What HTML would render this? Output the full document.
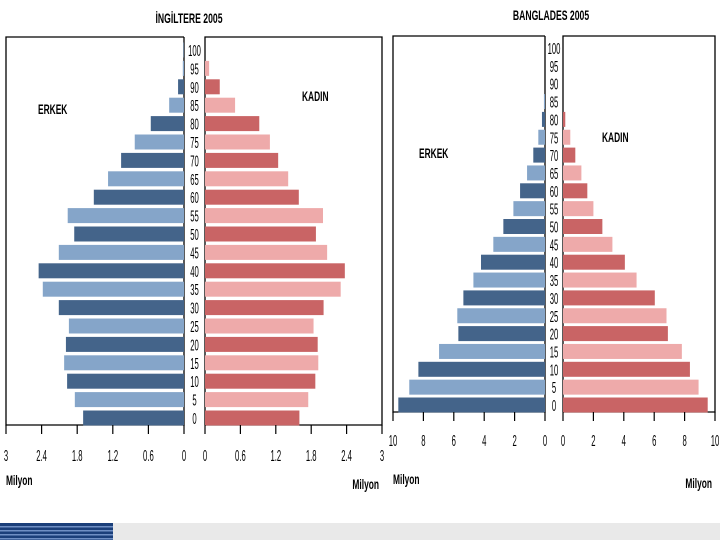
<!DOCTYPE html>
<html><head><meta charset="utf-8"><style>
body{margin:0;background:#fff;width:720px;height:540px;overflow:hidden}
svg{display:block;font-family:"Liberation Sans",sans-serif}
</style></head><body>
<svg id="c" width="720" height="540">
<rect x="0" y="523" width="720" height="17" fill="#e9e9e9"/>
<g>
<rect x="0" y="523" width="113" height="17" fill="#1b3f7a"/>
<rect x="0" y="526" width="113" height="1.5" fill="#6f8fc4"/>
<rect x="0" y="530" width="113" height="1.5" fill="#6f8fc4"/>
<rect x="0" y="534" width="113" height="1.5" fill="#6f8fc4"/>
<rect x="0" y="538" width="113" height="1.5" fill="#6f8fc4"/>
</g>
</svg>
<script>
const ages=[0,5,10,15,20,25,30,35,40,45,50,55,60,65,70,75,80,85,90,95,100];
const ukMale=[1.70,1.84,1.97,2.02,1.99,1.94,2.11,2.38,2.45,2.11,1.85,1.96,1.52,1.28,1.06,0.83,0.56,0.25,0.10,0.02,0.01];
const ukFemale=[1.60,1.75,1.87,1.92,1.91,1.84,2.01,2.30,2.37,2.07,1.88,2.00,1.59,1.41,1.24,1.10,0.92,0.51,0.25,0.07,0];
const ukTicks=["0","0.6","1.2","1.8","2.4","3"];
const bdMale=[9.65,8.93,8.33,6.97,5.70,5.77,5.37,4.71,4.21,3.40,2.74,2.08,1.64,1.18,0.77,0.44,0.20,0.07,0,0,0];
const bdFemale=[9.52,8.92,8.35,7.82,6.90,6.81,6.04,4.84,4.07,3.25,2.59,2.00,1.60,1.21,0.81,0.48,0.15,0,0,0,0];
const bdTicks=["0","2","4","6","8","10"];
const NS='http://www.w3.org/2000/svg';
const svg=document.getElementById('c');
function el(t,a,txt){const e=document.createElementNS(NS,t);for(const k in a)e.setAttribute(k,a[k]);if(txt!=null)e.textContent=txt;svg.appendChild(e);return e;}
function tx(x,y,anchor,size,bold,str,sx){
  return el('text',{x:0,y:0,transform:`translate(${x},${y}) scale(${sx||0.7},1.15)`,'text-anchor':anchor,'font-size':size,'font-weight':bold?'bold':'normal'},str);
}
function panel(o){
  const sxL=v=>o.l0-(o.l0-o.lMax)*v/o.max;
  const sxR=v=>o.r0+(o.rMax-o.r0)*v/o.max;
  const sy=i=>o.y0-(o.y0-o.y100)*i/(ages.length-1);
  let t=tx(o.tx,o.titleY,'middle',12,true,o.title,0.72);
  
  let f=el('path',{d:`M${o.l0},${o.top}H${o.lMax}V${o.bot}H${o.l0}V${o.top}`,fill:'none',stroke:'#000','stroke-width':1.3});
  
  f=el('path',{d:`M${o.r0},${o.bot}V${o.top}H${o.rMax}V${o.bot}H${o.r0}`,fill:'none',stroke:'#000','stroke-width':1.3});
  
  ages.forEach((a,i)=>{
    const y=sy(i),h=o.bh,dark=i%2===0;
    if(o.male[i]>0){const r=el('rect',{x:sxL(o.male[i]),y:y-h/2,width:o.l0-sxL(o.male[i]),height:h,fill:dark?'#44648a':'#85a5c9'});
      }
    if(o.female[i]>0){const r=el('rect',{x:o.r0,y:y-h/2,width:sxR(o.female[i])-o.r0,height:h,fill:dark?'#c96465':'#eeaaaa'});
      }
    const l=tx((o.l0+o.r0)/2,y+6,'middle',14,false,String(a),0.55);
    
  });
  o.ticks.forEach((tk,j)=>{
    const v=o.max*j/(o.ticks.length-1);
    [sxL(v),sxR(v)].forEach((x,s)=>{
      el('line',{x1:x,y1:o.bot,x2:x,y2:o.bot+9,stroke:'#000','stroke-width':1.2});
      const t2=tx(x,o.bot+o.tickDy,'middle',14,false,tk,0.55);
      
    });
  });
  let m=tx(o.lMax,o.bot+o.mDy,'start',12,true,'Milyon',0.7);
  
  m=tx(o.rMax-3,o.bot+o.mDy+4,'end',12,true,'Milyon',0.7);
  
  m=tx(o.ex,o.ey,'start',12,true,'ERKEK');
  
  m=tx(o.kx,o.ky,'start',12,true,'KADIN');
  
}
panel({id:'uk',title:'İNGİLTERE  2005',tx:189,titleY:23,l0:184,lMax:6,r0:205,rMax:382,top:37,bot:425,y0:418,y100:50,bh:15,max:3,male:ukMale,female:ukFemale,ticks:ukTicks,tickDy:36,mDy:60,ex:38,ey:114,kx:302,ky:101});
panel({id:'bd',title:'BANGLADES  2005',tx:551,titleY:20,l0:545,lMax:393,r0:563,rMax:715,top:36,bot:412,y0:405,y100:48,bh:15,max:10,male:bdMale,female:bdFemale,ticks:bdTicks,tickDy:34,mDy:72,ex:419,ey:158,kx:602,ky:142});
</script>
</body></html>
